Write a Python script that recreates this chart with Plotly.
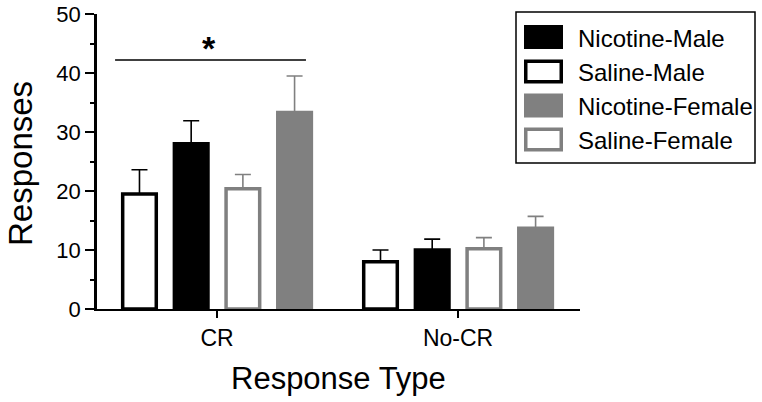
import plotly.graph_objects as go

categories = ["CR", "No-CR"]
series_names = ["Saline-Male", "Nicotine-Male", "Saline-Female", "Nicotine-Female"]
saline_male = [19.5, 8.0]
saline_male_err = [4.1, 2.0]
nicotine_male = [28.0, 10.0]
nicotine_male_err = [3.9, 1.85]
saline_female = [20.4, 10.2]
saline_female_err = [2.4, 1.9]
nicotine_female = [33.3, 13.7]
nicotine_female_err = [6.2, 2.0]
legend_order = ["Nicotine-Male", "Saline-Male", "Nicotine-Female", "Saline-Female"]
y_ticks = [0, 10, 20, 30, 40, 50]
sig_y = 42.2

GRAY = "#808080"
styles = {
    "Saline-Male": dict(fill="white", edge="black", err="black"),
    "Nicotine-Male": dict(fill="black", edge="black", err="black"),
    "Saline-Female": dict(fill="white", edge=GRAY, err=GRAY),
    "Nicotine-Female": dict(fill=GRAY, edge=GRAY, err=GRAY),
}
values = {
    "Saline-Male": (saline_male, saline_male_err),
    "Nicotine-Male": (nicotine_male, nicotine_male_err),
    "Saline-Female": (saline_female, saline_female_err),
    "Nicotine-Female": (nicotine_female, nicotine_female_err),
}

FONT = "Arial, Liberation Sans, Helvetica, sans-serif"
W, H = 762, 402
L, T = 97, 14
PW, PH = 483, 295
R, B = W - L - PW, H - T - PH

def px(x):
    return (x - L) / PW

def py(y):
    return (T + PH - y) / PH

fig = go.Figure()
for name in series_names:
    v, e = values[name]
    st = styles[name]
    fig.add_trace(go.Bar(
        x=categories, y=v, name=name, showlegend=False,
        marker=dict(color=st["fill"], line=dict(color=st["edge"], width=3.5)),
        error_y=dict(type="data", array=e, arrayminus=[0] * len(e), symmetric=False,
                     color=st["err"], thickness=1.6, width=8),
    ))

shapes = []
annotations = []

# significance bar
shapes.append(dict(type="line", xref="x", yref="y", x0=-0.423, x1=0.369, y0=sig_y, y1=sig_y,
                   line=dict(color="black", width=1.5)))
annotations.append(dict(text="<b>*</b>", xref="x", yref="y", x=-0.035, y=sig_y, yanchor="bottom",
                        showarrow=False, yshift=-9, font=dict(size=34, color="black", family=FONT)))

# legend
shapes.append(dict(type="rect", xref="paper", yref="paper", x0=px(516), x1=px(755), y0=py(12), y1=py(163),
                   line=dict(color="black", width=1.5), fillcolor="white", layer="above"))
row_centers = [37, 71.5, 105.5, 139.5]
for name, cy in zip(legend_order, row_centers):
    st = styles[name]
    lw = 3.5 if st["fill"] == "white" else 0
    inset = lw / 2
    shapes.append(dict(type="rect", xref="paper", yref="paper",
                       x0=px(524 + inset), x1=px(563 - inset), y0=py(cy - 12 + inset), y1=py(cy + 12 - inset),
                       fillcolor=st["fill"], line=dict(color=st["edge"], width=lw), layer="above"))
    annotations.append(dict(text=name, xref="paper", yref="paper", x=px(576), y=py(cy + 1),
                            xanchor="left", yanchor="middle", showarrow=False,
                            font=dict(size=24, color="black", family=FONT)))

# axis titles
annotations.append(dict(text="Responses", xref="paper", yref="paper", x=px(20), y=py(164),
                        textangle=-90, showarrow=False, xanchor="center", yanchor="middle",
                        font=dict(size=33, color="black", family=FONT)))
annotations.append(dict(text="Response Type", xref="paper", yref="paper", x=px(338.5), y=py(378),
                        showarrow=False, xanchor="center", yanchor="middle",
                        font=dict(size=31, color="black", family=FONT)))

fig.update_layout(
    width=W, height=H,
    margin=dict(l=L, r=R, t=T, b=B, pad=0, autoexpand=False),
    paper_bgcolor="white", plot_bgcolor="white",
    barmode="group", bargap=0.142, bargroupgap=0.35,
    shapes=shapes, annotations=annotations,
    font=dict(family=FONT, color="black"),
    showlegend=False,
)
fig.update_xaxes(
    range=[-0.498, 1.506], showline=True, linecolor="black", linewidth=2.2, automargin=False,
    ticks="outside", ticklen=7, tickwidth=2, tickcolor="black",
    tickfont=dict(size=23, family=FONT, color="black"), showgrid=False, zeroline=False,
)
fig.update_yaxes(
    range=[0, 50], tickvals=y_ticks, showline=True, linecolor="black", linewidth=2.6, automargin=False,
    ticks="outside", ticklen=9, tickwidth=2, tickcolor="black", ticklabeloverflow="allow",
    minor=dict(dtick=5, ticks="outside", ticklen=4, tickwidth=2, tickcolor="black", showgrid=False),
    tickfont=dict(size=22, family=FONT, color="black"), showgrid=False, zeroline=False,
)

fig.write_html("out.html", config={"displayModeBar": False},
               post_script="document.body.style.margin='0';")
